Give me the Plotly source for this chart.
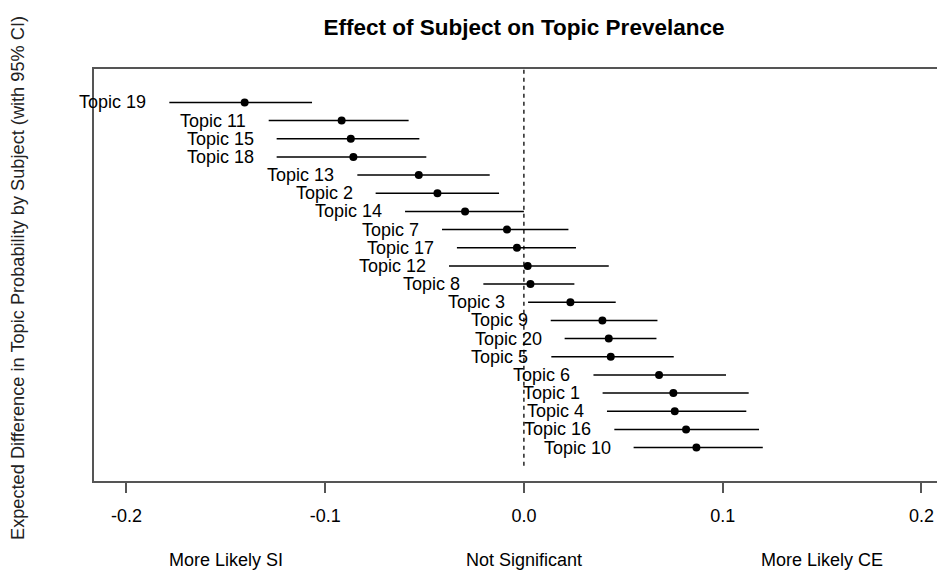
import plotly.graph_objects as go

# Data (top to bottom as drawn)
topics = ["Topic 19", "Topic 11", "Topic 15", "Topic 18", "Topic 13", "Topic 2", "Topic 14",
          "Topic 7", "Topic 17", "Topic 12", "Topic 8", "Topic 3", "Topic 9", "Topic 20",
          "Topic 5", "Topic 6", "Topic 1", "Topic 4", "Topic 16", "Topic 10"]
estimate = [-0.1405, -0.0917, -0.0871, -0.0858, -0.0529, -0.0435, -0.0296,
            -0.0085, -0.0035, 0.0019, 0.0033, 0.0234, 0.0395, 0.0427,
            0.0437, 0.0680, 0.0752, 0.0759, 0.0816, 0.0868]
ci_lower = [-0.1784, -0.1284, -0.1244, -0.1244, -0.0838, -0.0746, -0.0598,
            -0.0412, -0.0337, -0.0377, -0.0204, 0.0021, 0.0135, 0.0205,
            0.0138, 0.0350, 0.0396, 0.0418, 0.0455, 0.0552]
ci_upper = [-0.1066, -0.0580, -0.0526, -0.0491, -0.0172, -0.0125, 0.0000,
            0.0224, 0.0262, 0.0427, 0.0254, 0.0462, 0.0672, 0.0667,
            0.0754, 0.1017, 0.1131, 0.1119, 0.1183, 0.1202]
x_ticks = [-0.2, -0.1, 0.0, 0.1, 0.2]
x_tick_labels = ["-0.2", "-0.1", "0.0", "0.1", "0.2"]
side_label_pos = [-0.15, 0.0, 0.15]
side_labels = ["More Likely SI", "Not Significant", "More Likely CE"]

FONT = "Arial, 'Liberation Sans', sans-serif"
n = len(topics)
ypos = list(range(n, 0, -1))

OFF = 8  # page body margin
W, H = 945 - OFF, 572 - OFF
L, R, T = 94 - OFF, 0, 69 - OFF
BOT = 481 - OFF
B = H - BOT
pw, ph = W - L - R, H - T - B
x_lo = -0.2163
x_hi = x_lo + pw / 1987.5
y_lo, y_hi = -0.84, n + 1 + 0.84

fig = go.Figure()

# zero reference line (dashed)
fig.add_trace(go.Scatter(
    x=[0, 0], y=[0, y_hi], mode="lines",
    line=dict(color="black", width=1.3, dash="4px,4px"),
    hoverinfo="skip", showlegend=False))

fig.add_trace(go.Scatter(
    x=estimate, y=ypos, mode="markers",
    marker=dict(color="black", size=8),
    error_x=dict(type="data", symmetric=False,
                 array=[u - e for u, e in zip(ci_upper, estimate)],
                 arrayminus=[e - l for e, l in zip(estimate, ci_lower)],
                 color="black", thickness=1.5, width=0),
    text=topics, showlegend=False))

annotations = []
for t, lo, y in zip(topics, ci_lower, ypos):
    annotations.append(dict(x=lo, y=y, xref="x", yref="y", text=t, showarrow=False,
                            xanchor="right", yanchor="middle", xshift=-21,
                            font=dict(family=FONT, size=18, color="black")))
for s, xp in zip(side_labels, side_label_pos):
    annotations.append(dict(x=xp, y=(481 - 560) / ph, xref="x", yref="paper", text=s,
                            showarrow=False, xanchor="center", yanchor="middle",
                            font=dict(family=FONT, size=18, color="black")))
annotations.append(dict(x=(18 - 94) / pw, y=(481 - 278) / ph, xref="paper", yref="paper",
                        text="Expected Difference in Topic Probability by Subject (with 95% CI)",
                        textangle=-90, showarrow=False, xanchor="center", yanchor="middle",
                        font=dict(family=FONT, size=18.2, color="#222")))

fig.update_layout(
    width=W, height=H,
    margin=dict(l=L, r=R, t=T, b=B, pad=0),
    paper_bgcolor="white", plot_bgcolor="white",
    title=dict(text="<b>Effect of Subject on Topic Prevelance</b>",
               x=(524 - OFF) / W, xanchor="center", y=1 - (27 - OFF) / H, yanchor="middle",
               font=dict(family=FONT, size=22.5, color="black")),
    annotations=annotations,
    xaxis=dict(range=[x_lo, x_hi], tickmode="array", tickvals=x_ticks, ticktext=x_tick_labels,
               showgrid=False, zeroline=False, showline=True, linecolor="#555", linewidth=2,
               mirror=True, ticks="outside", ticklen=10, tickcolor="#555", tickwidth=1.5,
               ticklabelstandoff=7,
               tickfont=dict(family=FONT, size=18, color="black")),
    yaxis=dict(range=[y_lo, y_hi], showticklabels=False, ticks="", showgrid=False,
               zeroline=False, showline=True, linecolor="#555", linewidth=2, mirror=False),
    showlegend=False,
)

fig.write_html("out.html")
